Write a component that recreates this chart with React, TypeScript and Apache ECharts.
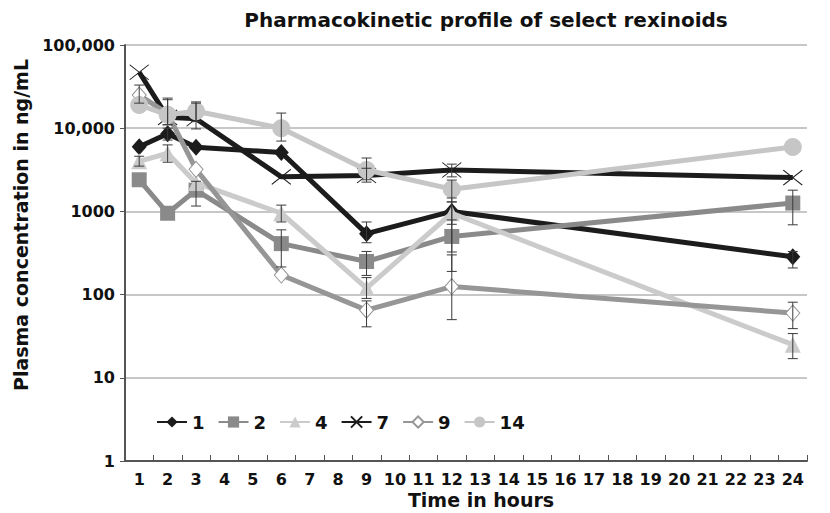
import React, { useEffect, useRef } from "react";
import * as echarts from "echarts";

const hours = Array.from({ length: 24 }, (_, i) => String(i + 1));
const sampleTimes = [1, 2, 3, 6, 9, 12, 24];

const seriesNames = ["1", "2", "4", "7", "9", "14"];

const s1 = [6000, 8600, 5900, 5100, 540, 1000, 285];
const s2 = [2400, 950, 1800, 410, 250, 500, 1260];
const s4 = [4000, 5000, 2200, 950, 120, 950, 25];
const s7 = [47000, 13500, 13000, 2600, 2700, 3150, 2550];
const s9 = [25000, 15000, 3200, 172, 65, 125, 60];
const s14 = [19000, 14500, 16000, 10000, 3150, 1850, 5950];

// error bars: [low, high] per sample time, null where none visible
const e1 = [null, [7200, 10000], null, null, [420, 746], [700, 1450], [209, 330]];
const e2 = [null, null, [1160, 2300], [215, 600], [170, 330], [325, 790], [690, 1800]];
const e4 = [[3500, 4600], [3900, 6300], null, [746, 1190], [90, 160], [190, 1300], [17, 34]];
const e7 = [null, [11000, 23000], [9800, 20000], null, [2250, 3300], [2600, 3700], null];
const e9 = [[20000, 33000], [11000, 22000], null, null, [41, 84], [50, 300], [39, 81]];
const e14 = [null, null, [12000, 20700], [7000, 15200], [2400, 4380], [1300, 2380], null];

const FONT = "DejaVu Sans";

export default function App() {
  const ref = useRef<HTMLDivElement>(null);
  useEffect(() => {
    if (!ref.current) return;
    const chart = echarts.init(ref.current, undefined, { renderer: "svg" });

    const mk = (vals: number[]) => vals.map((v, i) => [sampleTimes[i] - 1, v]);
    const mkErr = (errs: any[]) =>
      errs
        .map((e, i) => (e ? [sampleTimes[i] - 1, e[0], e[1]] : null))
        .filter((d) => d !== null);

    const styles = [
      { data: s1, err: e1, color: "#1c1c1c", symbol: "diamond", size: [15, 17], fill: "#1c1c1c", border: "#1c1c1c", bw: 0 },
      { data: s2, err: e2, color: "#8a8a8a", symbol: "rect", size: 15, fill: "#8a8a8a", border: "#8a8a8a", bw: 0 },
      { data: s4, err: e4, color: "#cbcbcb", symbol: "triangle", size: 16, fill: "#cbcbcb", border: "#cbcbcb", bw: 0 },
      { data: s7, err: e7, color: "#1c1c1c", symbol: "path://M0,0L20,16M20,0L0,16", size: [19, 15], fill: "none", border: "#1c1c1c", bw: 1 },
      { data: s9, err: e9, color: "#969696", symbol: "diamond", size: [14, 16], fill: "#ffffff", border: "#969696", bw: 1 },
      { data: s14, err: e14, color: "#c6c6c6", symbol: "circle", size: 18, fill: "#c6c6c6", border: "#c6c6c6", bw: 0 },
    ];

    const errRender = (params: any, api: any) => {
      const x = api.value(0);
      const lo = api.coord([x, api.value(1)]);
      const hi = api.coord([x, api.value(2)]);
      const w = 5;
      const st = { stroke: "#3a3a3a", lineWidth: 1 };
      return {
        type: "group",
        children: [
          { type: "line", shape: { x1: lo[0], y1: lo[1], x2: hi[0], y2: hi[1] }, style: st },
          { type: "line", shape: { x1: lo[0] - w, y1: lo[1], x2: lo[0] + w, y2: lo[1] }, style: st },
          { type: "line", shape: { x1: hi[0] - w, y1: hi[1], x2: hi[0] + w, y2: hi[1] }, style: st },
        ],
      };
    };

    const series: any[] = [];
    styles.forEach((s, i) => {
      series.push({
        name: seriesNames[i],
        type: "line",
        data: mk(s.data),
        symbol: s.symbol,
        symbolSize: s.size,
        showAllSymbol: true,
        lineStyle: { color: s.color, width: 5 },
        itemStyle: { color: s.fill, borderColor: s.border, borderWidth: s.bw },
        z: 2 + i,
      });
    });
    styles.forEach((s, i) => {
      series.push({
        name: seriesNames[i] + "-err",
        type: "custom",
        renderItem: errRender,
        data: mkErr(s.err),
        encode: { x: 0, y: [1, 2] },
        z: 10,
        silent: true,
      });
    });

    chart.setOption({
      animation: false,
      backgroundColor: "#ffffff",
      title: {
        text: "Pharmacokinetic profile of select rexinoids",
        left: 481,
        top: 5,
        textAlign: "center",
        textStyle: { fontFamily: FONT, fontWeight: "bold", fontSize: 20, color: "#111" },
      },
      graphic: [
        {
          type: "text",
          x: 21,
          y: 225,
          rotation: Math.PI / 2,
          style: {
            text: "Plasma concentration in ng/mL",
            fontFamily: FONT,
            fontWeight: "bold",
            fontSize: 19,
            fill: "#111",
            textAlign: "center",
            textVerticalAlign: "middle",
          },
        },
        {
          type: "text",
          x: 481,
          y: 500,
          style: {
            text: "Time in hours",
            fontFamily: FONT,
            fontWeight: "bold",
            fontSize: 19,
            fill: "#111",
            textAlign: "center",
            textVerticalAlign: "middle",
          },
        },
      ],
      legend: {
        data: seriesNames,
        left: 151,
        top: 408,
        itemWidth: 30,
        itemHeight: 14,
        itemGap: 13,
        textStyle: { fontFamily: FONT, fontWeight: "bold", fontSize: 18, color: "#111" },
      },
      grid: { left: 125, right: 23, top: 45, bottom: 52 },
      xAxis: {
        type: "category",
        data: hours,
        boundaryGap: true,
        axisLine: { show: true, lineStyle: { color: "#555", width: 2 } },
        axisTick: { show: true, inside: true, length: 6, lineStyle: { color: "#555" } },
        axisLabel: { fontFamily: FONT, fontWeight: "bold", fontSize: 16, color: "#111", margin: 10, interval: 0 },
        splitLine: { show: false },
      },
      yAxis: {
        type: "log",
        logBase: 10,
        min: 1,
        max: 100000,
        axisLine: { show: true, lineStyle: { color: "#555", width: 2 } },
        axisTick: { show: true, inside: false, length: 5, lineStyle: { color: "#555" } },
        axisLabel: {
          fontFamily: FONT,
          fontWeight: "bold",
          fontSize: 16,
          color: "#111",
          margin: 10,
          formatter: (v: number) => (v >= 10000 ? v.toLocaleString("en-US") : String(v)),
        },
        splitLine: { show: true, lineStyle: { color: "#b5b5b5", width: 1.5 } },
      },
      series,
    });

    return () => chart.dispose();
  }, []);

  return (
    <div
      ref={ref}
      style={{ position: "fixed", left: 0, top: 0, width: 830, height: 513 }}
    />
  );
}
